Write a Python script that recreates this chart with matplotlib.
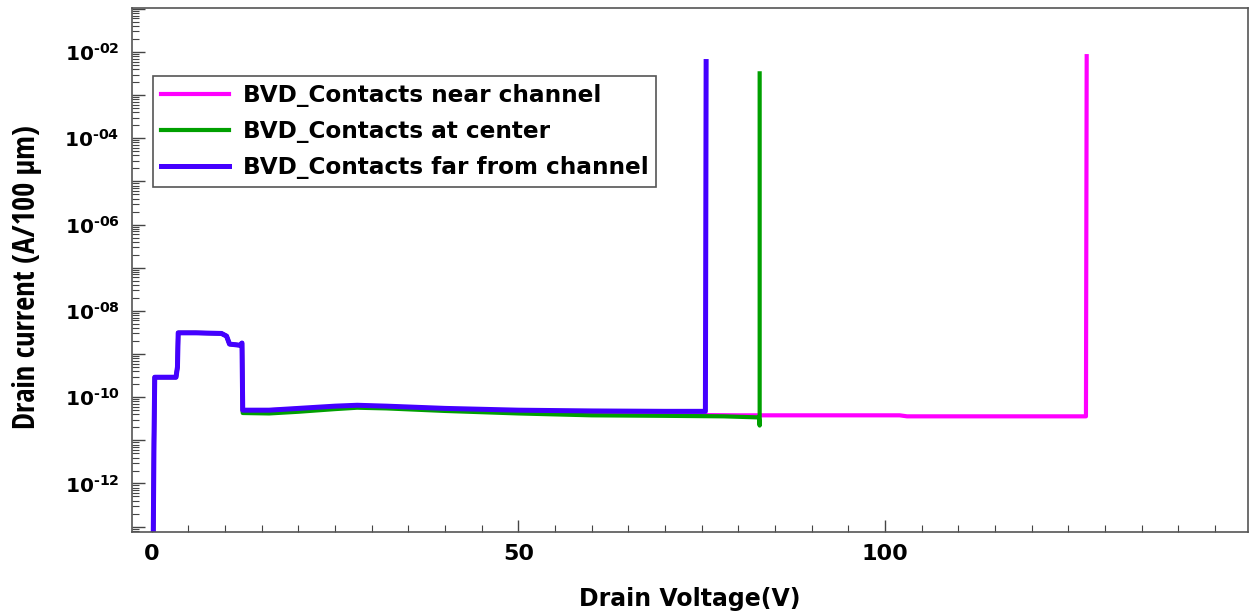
import matplotlib
matplotlib.use('Agg')
import matplotlib.pyplot as plt
from matplotlib.ticker import LogLocator, MultipleLocator, FuncFormatter, NullFormatter
import numpy as np

# Données (tension de drain en V, courant en A/100 um)
v_near = [0.2, 0.3, 0.4, 3.3, 3.5, 3.6, 6.0, 9.5, 10.2, 10.6, 12.0, 12.3, 12.4, 16, 20, 25, 28, 32, 40, 50, 60, 70, 80, 85, 102, 103, 127.4, 127.5]
i_near = [6e-14, 1e-11, 2.9e-10, 2.9e-10, 5e-10, 3.1e-9, 3.1e-9, 3.0e-9, 2.6e-9, 1.7e-9, 1.6e-9, 1.8e-9, 4.9e-11, 5.0e-11, 5.4e-11, 6.0e-11, 6.4e-11, 6.1e-11, 5.4e-11, 4.6e-11, 4.1e-11, 3.9e-11, 3.8e-11, 3.8e-11, 3.8e-11, 3.6e-11, 3.6e-11, 8e-3]

v_center = [0.2, 0.3, 0.4, 3.3, 3.5, 3.6, 6.0, 9.5, 10.2, 10.6, 12.0, 12.3, 12.4, 16, 20, 25, 28, 32, 40, 50, 60, 70, 78, 82.8, 82.9, 82.9]
i_center = [6e-14, 1e-11, 2.9e-10, 2.9e-10, 5e-10, 3.1e-9, 3.1e-9, 3.0e-9, 2.6e-9, 1.7e-9, 1.6e-9, 1.8e-9, 4.3e-11, 4.2e-11, 4.6e-11, 5.3e-11, 5.7e-11, 5.5e-11, 4.8e-11, 4.2e-11, 3.8e-11, 3.7e-11, 3.6e-11, 3.4e-11, 2.2e-11, 3.2e-3]

v_far = [0.2, 0.3, 0.4, 3.3, 3.5, 3.6, 6.0, 9.5, 10.2, 10.6, 12.0, 12.3, 12.4, 16, 20, 25, 28, 32, 40, 50, 60, 70, 75.5, 75.6]
i_far = [6e-14, 1e-11, 2.9e-10, 2.9e-10, 5e-10, 3.1e-9, 3.1e-9, 3.0e-9, 2.6e-9, 1.7e-9, 1.6e-9, 1.8e-9, 5.0e-11, 5.0e-11, 5.5e-11, 6.2e-11, 6.5e-11, 6.2e-11, 5.5e-11, 5.0e-11, 4.8e-11, 4.7e-11, 4.7e-11, 6e-3]

labels = ['BVD_Contacts near channel', 'BVD_Contacts at center', 'BVD_Contacts far from channel']
colors = ['#ff00ff', '#00a000', '#4400ff']

plt.rcParams['font.family'] = 'DejaVu Sans'
plt.rcParams['font.weight'] = 'bold'
plt.rcParams['mathtext.fontset'] = 'dejavusans'

fig = plt.figure(figsize=(12.5, 6.12), dpi=100)
ax = fig.add_axes([0.1056, 0.131, 0.8928, 0.856])

# Tracer les courbes
ax.plot(v_near, i_near, color=colors[0], lw=3.0, label=labels[0])
ax.plot(v_center, i_center, color=colors[1], lw=3.0, label=labels[1])
ax.plot(v_far, i_far, color=colors[2], lw=3.6, label=labels[2])

ax.set_yscale('log')
ax.set_xlim(-2.7, 149.5)
ax.set_ylim(10**-13.12, 10**-0.98)

# Graduations
ax.xaxis.set_major_locator(MultipleLocator(50))
ax.xaxis.set_minor_locator(MultipleLocator(5))
ax.yaxis.set_major_locator(LogLocator(base=10, numticks=30))
ax.yaxis.set_minor_locator(LogLocator(base=10, subs=np.arange(2, 10), numticks=30))
ax.yaxis.set_minor_formatter(NullFormatter())


def fmt_y(val, pos):
    e = int(round(np.log10(val)))
    if e % 2 != 0:
        return ''
    return '$\\mathbf{10^{\u2010%02d}}$' % (-e)


ax.yaxis.set_major_formatter(FuncFormatter(fmt_y))
ax.tick_params(axis='both', which='major', direction='in', length=9, width=1, color='#444444', pad=9)
ax.tick_params(axis='both', which='minor', direction='in', length=5, width=0.8, color='#444444')
ax.tick_params(axis='y', which='major', labelsize=14.5)
ax.tick_params(axis='x', which='major', labelsize=16)

for s in ax.spines.values():
    s.set_color('#555555')
    s.set_linewidth(1.2)

ax.set_xlabel('Drain Voltage(V)', fontsize=17, fontweight='bold', labelpad=16)
ax.set_ylabel('Drain current (A/100 µm)', fontsize=22, fontweight='semibold', fontstretch='condensed',
              family=['Liberation Sans Narrow', 'Open Sans Condensed', 'Roboto Condensed', 'Noto Sans Condensed', 'Noto Sans'])
ax.yaxis.set_label_coords(-0.081, 0.487)

leg = ax.legend(loc='upper left', bbox_to_anchor=(0.019, 0.871), prop={'family': 'DejaVu Sans', 'weight': 'bold', 'size': 16.7},
                fancybox=False, framealpha=1, edgecolor='#555555', handlelength=2.9, handletextpad=0.6,
                labelspacing=0.56, borderpad=0.35, borderaxespad=0)
leg.get_frame().set_linewidth(1.2)

fig.savefig('out.png', dpi=100)
